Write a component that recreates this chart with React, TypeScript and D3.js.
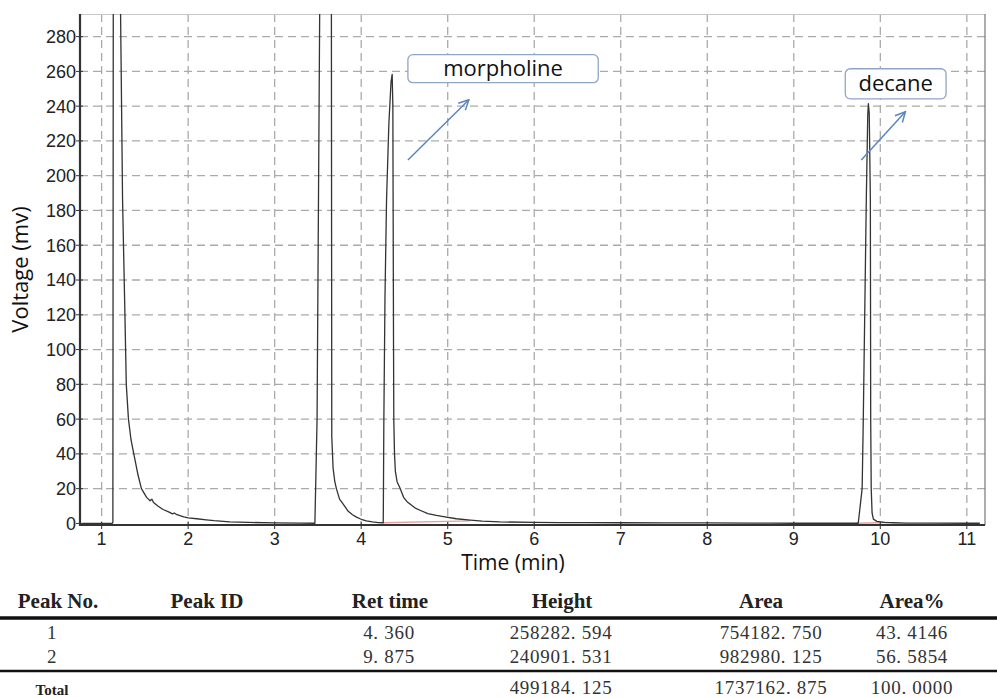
import React, { useEffect, useRef } from 'react';
import * as d3 from 'd3';

// chromatogram trace, [time (min), voltage (mV)]
const trace: [number, number][] = [
  [0.78, 0], [1.12, 0], [1.13, 0.5], [1.135, 330], [1.215, 330], [1.219, 293],
  [1.242, 186], [1.266, 128], [1.285, 80], [1.31, 60], [1.34, 48], [1.38, 38],
  [1.42, 28], [1.46, 20], [1.52, 15], [1.56, 13], [1.58, 14], [1.6, 12],
  [1.65, 10], [1.71, 8], [1.78, 6.5], [1.82, 5.5], [1.84, 6], [1.87, 5],
  [1.95, 3.8], [2.0, 3.2], [2.1, 2.7], [2.21, 2.1], [2.3, 1.6], [2.48, 0.9],
  [2.7, 0.6], [3.0, 0.3], [3.3, 0.2], [3.465, 0.1],
  [3.49, 60], [3.525, 330], [3.655, 330], [3.66, 50], [3.675, 32], [3.695, 24],
  [3.715, 19.7], [3.75, 14], [3.79, 11.3], [3.85, 7], [3.9, 5], [3.946, 3.6],
  [4.0, 2.4], [4.06, 1.5], [4.13, 0.9], [4.2, 0.5], [4.255, 0.4],
  [4.262, 60], [4.275, 130], [4.293, 186], [4.32, 230], [4.345, 254], [4.358, 258.3],
  [4.366, 240], [4.369, 186], [4.374, 100], [4.377, 59], [4.385, 40], [4.395, 30],
  [4.415, 24], [4.447, 20.5], [4.49, 15], [4.53, 12.5], [4.56, 11.3], [4.62, 9],
  [4.68, 7.6], [4.77, 5.6], [4.87, 4.6], [4.95, 3.9], [5.1, 2.7], [5.26, 1.9],
  [5.4, 1.3], [5.6, 0.9], [6.0, 0.6], [6.3, 0.5], [6.6, 0.45], [7.0, 0.4],
  [7.5, 0.3], [8.0, 0.3], [8.5, 0.2], [8.73, 0.2], [9.0, 0.1], [9.5, 0.1],
  [9.745, 0.1], [9.79, 20], [9.803, 59], [9.838, 186], [9.855, 235], [9.862, 241.4],
  [9.872, 236], [9.885, 186], [9.889, 59], [9.895, 20], [9.905, 6], [9.92, 2.5],
  [9.96, 1.2], [10.05, 0.6], [10.15, 0.4], [10.3, 0.2], [10.6, 0.15], [11.0, 0.1],
  [11.15, 0.1],
];

// integration baselines drawn under the two identified peaks
const integrationBaselines: [number, number][][] = [
  [[4.255, 0.4], [5.26, 1.5]],
  [[9.72, 0.1], [10.1, 0.5]],
];

const xTicks = [1, 2, 3, 4, 5, 6, 7, 8, 9, 10, 11];
const yTicks = [0, 20, 40, 60, 80, 100, 120, 140, 160, 180, 200, 220, 240, 260, 280];

const annotations = [
  { label: 'morpholine', box: [4.54, 6.74, 269.6, 253.5], from: [4.54, 209], to: [5.245, 243.7] },
  { label: 'decane', box: [9.595, 10.76, 261.5, 244.2], from: [9.78, 209], to: [10.29, 236.8] },
];

// peak table
const tableHeaders = ['Peak No.', 'Peak ID', 'Ret time', 'Height', 'Area', 'Area%'];
const peakNo = ['1', '2'];
const peakId = ['', ''];
const retTime = ['4. 360', '9. 875'];
const peakHeight = ['258282. 594', '240901. 531'];
const peakArea = ['754182. 750', '982980. 125'];
const areaPct = ['43. 4146', '56. 5854'];
const totalRow = ['', '', '', '499184. 125', '1737162. 875', '100. 0000'];

const W = 997;
const H = 698;

const App = () => {
  const svgRef = useRef<SVGSVGElement>(null);

  useEffect(() => {
    const svg = d3.select(svgRef.current);
    svg.selectAll('*').remove();

    const left = 80, right = 985, top = 14, bottom = 525;
    const x = d3.scaleLinear().domain([0.75, 11.21]).range([left, right]);
    const y = d3.scaleLinear().domain([-0.9, 293]).range([bottom, top]);

    const defs = svg.append('defs');
    defs.append('clipPath').attr('id', 'plot-clip')
      .append('rect')
      .attr('x', left).attr('y', top)
      .attr('width', right - left).attr('height', bottom - top);
    defs.append('marker')
      .attr('id', 'open-arrow')
      .attr('viewBox', '0 0 12 12')
      .attr('refX', 11).attr('refY', 6)
      .attr('markerWidth', 12).attr('markerHeight', 12)
      .attr('markerUnits', 'userSpaceOnUse')
      .attr('orient', 'auto')
      .append('path')
      .attr('d', 'M1,1L11,6L1,11')
      .attr('fill', 'none')
      .attr('stroke', '#5a86bf')
      .attr('stroke-width', 1.5);

    // grid (dashed)
    const grid = svg.append('g');
    grid.selectAll('line.h').data(yTicks.filter(d => d > 0)).join('line')
      .attr('class', 'h')
      .attr('x1', left).attr('x2', right)
      .attr('y1', d => y(d)).attr('y2', d => y(d))
      .attr('stroke', '#aaa').attr('stroke-width', 1.3).attr('stroke-dasharray', '8,5');
    grid.selectAll('line.v').data(xTicks).join('line')
      .attr('class', 'v')
      .attr('x1', d => x(d)).attr('x2', d => x(d))
      .attr('y1', top).attr('y2', bottom)
      .attr('stroke', '#aaa').attr('stroke-width', 1.3).attr('stroke-dasharray', '8,5');

    // frame
    svg.append('line').attr('x1', left).attr('x2', right).attr('y1', top + 0.5).attr('y2', top + 0.5)
      .attr('stroke', '#c8c8c8').attr('stroke-width', 1);
    svg.append('line').attr('x1', right).attr('x2', right).attr('y1', top).attr('y2', bottom)
      .attr('stroke', '#777').attr('stroke-width', 1.2);

    // integration baselines
    svg.append('g').selectAll('path').data(integrationBaselines).join('path')
      .attr('d', d => d3.line()(d.map(p => [x(p[0]), y(p[1])] as [number, number])))
      .attr('stroke', '#e2a3a3').attr('stroke-width', 1.4).attr('fill', 'none');

    // trace
    const line = d3.line<[number, number]>().x(d => x(d[0])).y(d => y(d[1]));
    svg.append('path')
      .datum(trace)
      .attr('d', line)
      .attr('clip-path', 'url(#plot-clip)')
      .attr('fill', 'none')
      .attr('stroke', '#333')
      .attr('stroke-width', 1.3)
      .attr('stroke-linejoin', 'round');

    // axes
    const axisFont = '"Liberation Sans", Arial, sans-serif';
    const yAxis = svg.append('g');
    yAxis.append('line').attr('x1', left).attr('x2', left).attr('y1', top).attr('y2', bottom + 1)
      .attr('stroke', '#333').attr('stroke-width', 2.2);
    yAxis.selectAll('line.tick').data(yTicks).join('line')
      .attr('class', 'tick')
      .attr('x1', left - 4).attr('x2', left + 3)
      .attr('y1', d => y(d)).attr('y2', d => y(d))
      .attr('stroke', '#333').attr('stroke-width', 1);
    yAxis.selectAll('text').data(yTicks).join('text')
      .attr('x', left - 4)
      .attr('y', d => y(d))
      .attr('dy', '0.36em')
      .attr('text-anchor', 'end')
      .style('font-family', axisFont)
      .style('font-size', '18px')
      .style('fill', '#222')
      .text(d => d);

    const xAxis = svg.append('g');
    xAxis.append('line').attr('x1', left - 1).attr('x2', right).attr('y1', bottom).attr('y2', bottom)
      .attr('stroke', '#333').attr('stroke-width', 2.2);
    xAxis.selectAll('line.tick').data(xTicks).join('line')
      .attr('class', 'tick')
      .attr('x1', d => x(d)).attr('x2', d => x(d))
      .attr('y1', bottom - 3).attr('y2', bottom + 4)
      .attr('stroke', '#333').attr('stroke-width', 1);
    xAxis.selectAll('text').data(xTicks).join('text')
      .attr('x', d => x(d))
      .attr('y', 545)
      .attr('text-anchor', 'middle')
      .style('font-family', axisFont)
      .style('font-size', '18px')
      .style('fill', '#222')
      .text(d => d);

    const labelFont = '"Open Sans", "Noto Sans", sans-serif';
    svg.append('text')
      .attr('x', 513).attr('y', 570)
      .attr('text-anchor', 'middle')
      .style('font-family', labelFont).style('font-size', '21px').style('fill', '#111')
      .text('Time (min)');
    svg.append('text')
      .attr('transform', `translate(28,${(top + bottom) / 2}) rotate(-90)`)
      .attr('text-anchor', 'middle')
      .style('font-family', labelFont).style('font-size', '22px').style('fill', '#111')
      .text('Voltage (mv)');

    // annotations: label box + arrow
    const ann = svg.append('g').selectAll('g').data(annotations).join('g');
    ann.append('rect')
      .attr('x', d => x(d.box[0])).attr('y', d => y(d.box[2]))
      .attr('width', d => x(d.box[1]) - x(d.box[0]))
      .attr('height', d => y(d.box[3]) - y(d.box[2]))
      .attr('rx', 5)
      .attr('fill', '#fff')
      .attr('stroke', '#8fa6c4')
      .attr('stroke-width', 1.3);
    ann.append('text')
      .attr('x', d => (x(d.box[0]) + x(d.box[1])) / 2)
      .attr('y', d => (y(d.box[2]) + y(d.box[3])) / 2)
      .attr('dy', '0.33em')
      .attr('text-anchor', 'middle')
      .style('font-family', labelFont).style('font-size', '22px').style('fill', '#111')
      .text(d => d.label);
    ann.append('line')
      .attr('x1', d => x(d.from[0])).attr('y1', d => y(d.from[1]))
      .attr('x2', d => x(d.to[0])).attr('y2', d => y(d.to[1]))
      .attr('stroke', '#5a86bf').attr('stroke-width', 1.5)
      .attr('marker-end', 'url(#open-arrow)');

    // peak table
    const serif = '"Liberation Serif", "Times New Roman", serif';
    const headerX = [58, 207, 390, 562, 761, 912];
    const cellX = [52, 207, 389, 561, 771, 912];
    const table = svg.append('g');
    table.selectAll('text.head').data(tableHeaders).join('text')
      .attr('class', 'head')
      .attr('x', (d, i) => headerX[i]).attr('y', 608)
      .attr('text-anchor', 'middle')
      .style('font-family', serif).style('font-size', '21px').style('font-weight', 'bold').style('fill', '#222')
      .text(d => d);
    table.append('line').attr('x1', 0).attr('x2', W).attr('y1', 618).attr('y2', 618)
      .attr('stroke', '#111').attr('stroke-width', 3.5);

    const rows = peakNo.map((n, i) => [n, peakId[i], retTime[i], peakHeight[i], peakArea[i], areaPct[i]]);
    const rowBase = [638.5, 662.5];
    rows.forEach((row, r) => {
      table.append('g').selectAll('text').data(row).join('text')
        .attr('x', (d, i) => cellX[i]).attr('y', rowBase[r])
        .attr('text-anchor', 'middle')
        .style('font-family', serif).style('font-size', '19px').style('letter-spacing', '0.7px').style('fill', '#333')
        .text(d => d);
    });
    table.append('line').attr('x1', 0).attr('x2', W).attr('y1', 671).attr('y2', 671)
      .attr('stroke', '#111').attr('stroke-width', 2.5);

    table.append('text')
      .attr('x', cellX[0]).attr('y', 695)
      .attr('text-anchor', 'middle')
      .style('font-family', serif).style('font-size', '15px').style('font-weight', 'bold').style('fill', '#222')
      .text('Total');
    table.append('g').selectAll('text').data(totalRow).join('text')
      .attr('x', (d, i) => cellX[i]).attr('y', 693.5)
      .attr('text-anchor', 'middle')
      .style('font-family', serif).style('font-size', '19px').style('letter-spacing', '0.7px').style('fill', '#333')
      .text(d => d);
  }, []);

  return (
    <svg
      ref={svgRef}
      width={W}
      height={H}
      style={{ position: 'absolute', left: 0, top: 0, background: '#fff' }}
    />
  );
};

export default App;
